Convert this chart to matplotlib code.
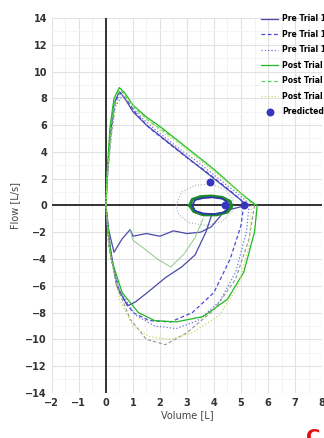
import matplotlib.pyplot as plt
import numpy as np

# legend names
labels = ["Pre Trial 13", "Pre Trial 14", "Pre Trial 15",
          "Post Trial 18", "Post Trial 19", "Post Trial 20"]

# expiratory limbs (volume, flow)
exp_pre13_v = [0, 0.05, 0.15, 0.3, 0.5, 0.7, 1.0, 1.5, 2.0, 2.5, 3.0, 3.5, 4.0, 4.5, 5.0, 5.2]
exp_pre13_f = [0, 2.0, 5.0, 7.6, 8.5, 8.0, 7.0, 6.0, 5.2, 4.4, 3.6, 2.8, 2.0, 1.2, 0.4, 0]
exp_pre14_v = [0, 0.05, 0.2, 0.35, 0.55, 0.8, 1.1, 1.6, 2.1, 2.6, 3.1, 3.6, 4.1, 4.6, 5.0, 5.1]
exp_pre14_f = [0, 2.2, 5.5, 7.8, 8.4, 7.8, 6.9, 5.8, 5.0, 4.2, 3.4, 2.7, 1.9, 1.1, 0.4, 0]
exp_pre15_v = [0, 0.05, 0.2, 0.35, 0.6, 0.9, 1.3, 1.8, 2.3, 2.8, 3.3, 3.8, 4.3, 4.8, 5.2, 5.3]
exp_pre15_f = [0, 2.0, 5.2, 7.4, 8.2, 7.5, 6.6, 5.7, 4.9, 4.1, 3.4, 2.6, 1.8, 1.0, 0.3, 0]
exp_post18_v = [0, 0.05, 0.15, 0.3, 0.5, 0.7, 1.0, 1.5, 2.0, 2.5, 3.0, 3.5, 4.0, 4.5, 5.0, 5.5, 5.6]
exp_post18_f = [0, 2.5, 5.8, 8.0, 8.8, 8.4, 7.5, 6.6, 5.9, 5.1, 4.3, 3.5, 2.7, 1.8, 0.9, 0.1, 0]
exp_post19_v = [0, 0.05, 0.2, 0.35, 0.55, 0.8, 1.1, 1.6, 2.1, 2.6, 3.1, 3.6, 4.1, 4.6, 5.1, 5.5]
exp_post19_f = [0, 2.4, 6.0, 8.2, 8.6, 8.0, 7.2, 6.3, 5.6, 4.9, 4.1, 3.3, 2.5, 1.6, 0.7, 0]
exp_post20_v = [0, 0.05, 0.2, 0.4, 0.6, 0.9, 1.2, 1.7, 2.2, 2.7, 3.2, 3.7, 4.2, 4.7, 5.2, 5.4]
exp_post20_f = [0, 2.0, 5.4, 7.8, 8.3, 7.7, 7.0, 6.1, 5.3, 4.6, 3.8, 3.0, 2.2, 1.4, 0.5, 0]

# inspiratory limbs
insp_pre13_v = [5.2, 4.4, 3.9, 3.5, 3.0, 2.5, 2.0, 1.5, 1.0, 0.9, 0.6, 0.3, 0.1, 0]
insp_pre13_f = [0, -0.4, -1.6, -2.0, -2.1, -1.9, -2.3, -2.1, -2.3, -1.8, -2.5, -3.5, -1.8, 0]
insp_pre13b_v = [3.9, 3.7, 3.3, 2.8, 2.2, 1.6, 1.1, 0.8, 0.4, 0.15, 0]
insp_pre13b_f = [-0.8, -2.0, -3.7, -4.6, -5.4, -6.4, -7.2, -7.5, -6.0, -3.0, 0]
insp_pre14_v = [5.1, 5.0, 4.6, 4.0, 3.2, 2.4, 1.6, 1.0, 0.5, 0.2, 0.05, 0]
insp_pre14_f = [0, -1.5, -4.0, -6.5, -8.0, -8.7, -8.6, -8.0, -6.5, -4.0, -1.5, 0]
insp_pre15_v = [5.3, 5.2, 4.8, 4.2, 3.4, 2.6, 1.8, 1.1, 0.5, 0.15, 0]
insp_pre15_f = [0, -2.0, -5.0, -7.2, -8.6, -9.2, -9.0, -8.2, -6.3, -3.5, 0]
insp_post18_v = [5.6, 5.5, 5.1, 4.5, 3.6, 2.6, 1.8, 1.2, 0.6, 0.2, 0]
insp_post18_f = [0, -2.0, -5.0, -7.0, -8.3, -8.7, -8.6, -8.0, -6.5, -4.0, 0]
insp_post18b_v = [3.6, 3.3, 2.9, 2.4, 1.9, 1.4, 1.0, 0.9]
insp_post18b_f = [-1.0, -2.4, -3.6, -4.6, -4.0, -3.2, -2.6, -1.8]
insp_post19_v = [5.5, 5.3, 4.8, 4.0, 3.0, 2.2, 1.5, 0.9, 0.4, 0.1, 0]
insp_post19_f = [0, -2.5, -5.5, -7.8, -9.5, -10.4, -10.0, -8.5, -6.0, -3.0, 0]
insp_post20_v = [5.4, 5.3, 4.9, 4.2, 3.2, 2.4, 1.6, 1.0, 0.5, 0.15, 0]
insp_post20_f = [0, -3.0, -6.0, -8.2, -9.5, -10.0, -9.8, -9.0, -7.0, -3.5, 0]

# tidal loops
tid_green_v = [3.1, 3.2, 3.5, 3.9, 4.3, 4.6, 4.65, 4.5, 4.1, 3.6, 3.25, 3.1]
tid_green_f = [0, 0.45, 0.65, 0.7, 0.6, 0.3, -0.1, -0.5, -0.7, -0.7, -0.45, 0]
tid_blue_v = [3.2, 3.3, 3.6, 3.95, 4.3, 4.5, 4.55, 4.4, 4.0, 3.6, 3.3, 3.2]
tid_blue_f = [0, 0.4, 0.55, 0.6, 0.5, 0.25, -0.15, -0.5, -0.65, -0.6, -0.4, 0]
tid_dot_v = [2.6, 2.8, 3.3, 3.9, 4.4, 4.7, 4.7, 4.3, 3.7, 3.1, 2.7, 2.6]
tid_dot_f = [0, 1.0, 1.5, 1.6, 1.2, 0.5, -0.4, -1.2, -1.5, -1.3, -0.7, 0]

pred_v = [3.85, 4.4, 5.1]
pred_f = [1.75, 0.05, 0.05]

c_pre13 = "#4a4aa8"
c_pre14 = "#4848d8"
c_pre15 = "#7070e0"
c_post18 = "#22b822"
c_post19 = "#55d855"
c_post20 = "#c8dc60"

fig = plt.figure(figsize=(3.24, 4.38), dpi=100)
ax = fig.add_axes([0.16, 0.103, 0.834, 0.856])

for x in range(-2, 9):
    ax.axvline(x, color="#e2e2e2", lw=0.8, zorder=0)
for x in np.arange(-1.5, 8, 1):
    ax.axvline(x, color="#f0f0f0", lw=0.6, zorder=0)
for y in range(-14, 15, 2):
    ax.axhline(y, color="#e2e2e2", lw=0.8, zorder=0)
for y in range(-13, 14, 2):
    ax.axhline(y, color="#f2f2f2", lw=0.6, zorder=0)
ax.axhline(0, color="#333333", lw=1.4, zorder=1)
ax.axvline(0, color="#333333", lw=1.4, zorder=1)

ax.plot(tid_dot_v, tid_dot_f, color="#b0b0b0", ls=":", lw=0.8)

ax.plot(exp_pre13_v, exp_pre13_f, color=c_pre13, lw=0.9, label=labels[0])
ax.plot(insp_pre13_v, insp_pre13_f, color=c_pre13, lw=0.9)
ax.plot(insp_pre13b_v, insp_pre13b_f, color=c_pre13, lw=0.9)
ax.plot(exp_pre14_v, exp_pre14_f, color=c_pre14, lw=0.9, ls=(0, (3, 2)), label=labels[1])
ax.plot(insp_pre14_v, insp_pre14_f, color=c_pre14, lw=0.9, ls=(0, (3, 2)))
ax.plot(exp_pre15_v, exp_pre15_f, color=c_pre15, lw=0.9, ls=":", label=labels[2])
ax.plot(insp_pre15_v, insp_pre15_f, color=c_pre15, lw=0.9, ls=":")

ax.plot(exp_post18_v, exp_post18_f, color=c_post18, lw=0.9, label=labels[3])
ax.plot(insp_post18_v, insp_post18_f, color=c_post18, lw=0.9)
ax.plot(insp_post18b_v, insp_post18b_f, color="#90c890", lw=0.7)
ax.plot(exp_post19_v, exp_post19_f, color=c_post19, lw=0.9, ls=(0, (3, 2)), label=labels[4])
ax.plot(insp_post19_v, insp_post19_f, color="#8a9a8a", lw=0.8, ls=(0, (3, 2)))
ax.plot(exp_post20_v, exp_post20_f, color=c_post20, lw=0.9, ls=":", label=labels[5])
ax.plot(insp_post20_v, insp_post20_f, color=c_post20, lw=0.9, ls=":")

ax.plot(tid_green_v, tid_green_f, color="#1a8a2a", lw=2.2)
ax.plot(tid_blue_v, tid_blue_f, color="#3030b0", lw=1.2)

ax.scatter(pred_v, pred_f, s=22, color="#3535c0", zorder=5, label="Predicted")

ax.set_xlim(-2, 8)
ax.set_ylim(-14, 14)
ax.set_xticks(range(-2, 9))
ax.set_yticks(range(-14, 15, 2))
ax.tick_params(labelsize=7, length=0, colors="#333333")
for t in ax.get_xticklabels() + ax.get_yticklabels():
    t.set_fontweight("bold")
for s in ax.spines.values():
    s.set_visible(False)
ax.set_xlabel("Volume [L]", fontsize=7, color="#444444", labelpad=2)
ax.set_ylabel("Flow [L/s]", fontsize=7, color="#444444", labelpad=4)

fig.legend(loc="upper left", bbox_to_anchor=(0.785, 0.983), frameon=False,
           prop={"size": 5.5, "weight": "bold"}, handlelength=2.2,
           labelspacing=0.85, handletextpad=0.5)

fig.text(0.945, -0.012, "C", color="#e01010", fontsize=14, fontweight="bold")

fig.savefig("out.png", dpi=100)
